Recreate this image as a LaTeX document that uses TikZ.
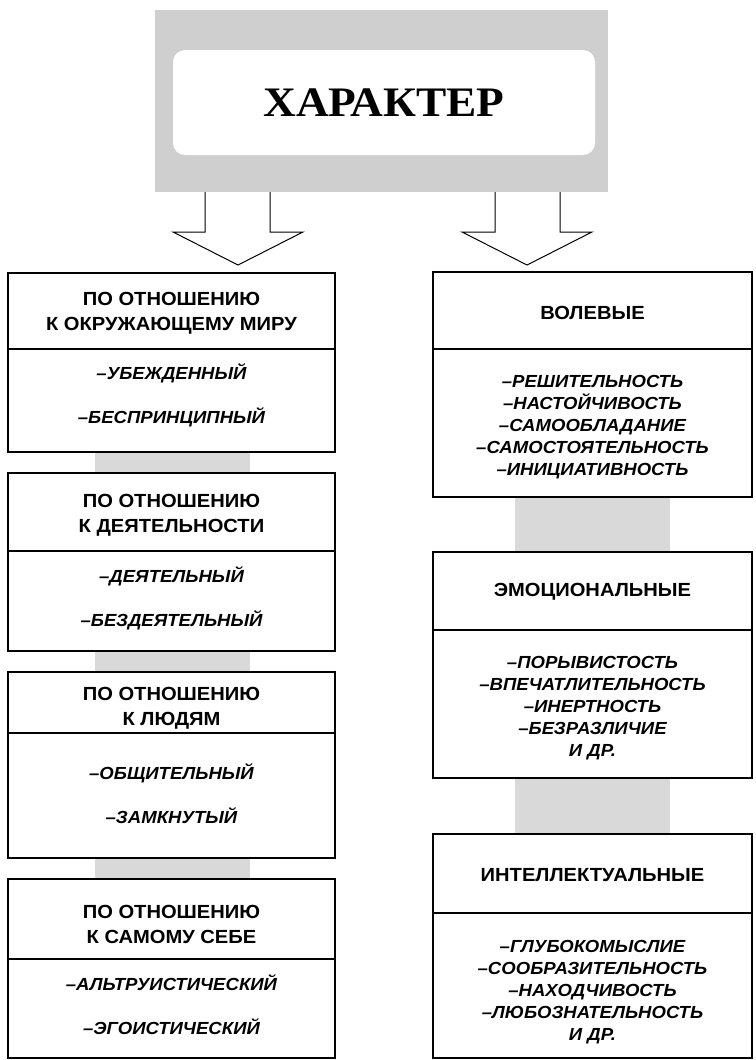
\documentclass[tikz,border=0pt]{standalone}
\usepackage{fontspec}
\newfontfamily\sansf{Liberation Sans}[FakeStretch=1.06]
\newfontfamily\titlef{Liberation Serif}[FakeStretch=1.08]
\begin{document}
\begin{tikzpicture}[x=1pt,y=-1pt,
  frame/.style={draw=black,line width=1.4pt,inner sep=0pt},
  lframe/.style={frame,minimum width=327pt},
  rframe/.style={frame,minimum width=319pt},
  hd/.style={align=center,inner sep=0pt,font=\sansf\bfseries\fontsize{19}{25}\selectfont},
  it/.style={align=center,inner sep=0pt,font=\sansf\bfseries\itshape\fontsize{17.5}{22}\selectfont},
  itw/.style={align=center,inner sep=0pt,font=\sansf\bfseries\itshape\fontsize{17.5}{44}\selectfont},
  conn/.style={fill=gray!30},
  blockarrow/.style={draw=black,line width=1pt,line join=miter}]
\useasboundingbox (0,0) rectangle (755,1060);
% top box
\node[fill=gray!38,minimum width=453pt,minimum height=182pt,inner sep=0pt] (G) at (381.5,101) {};
\node[fill=white,rounded corners=12pt,minimum width=422pt,minimum height=105pt,inner sep=0pt,
  font=\titlef\bfseries\fontsize{42}{42}\selectfont] (T) at (384,102.5) {ХАРАКТЕР};
% left column frames
\node[lframe,minimum height=76pt] (L1h) at (171.5,311) {};
\node[lframe,minimum height=103pt] (L1b) at (171.5,400.5) {};
\node[lframe,minimum height=78pt] (L2h) at (171.5,512) {};
\node[lframe,minimum height=100pt] (L2b) at (171.5,601) {};
\node[lframe,minimum height=61pt] (L3h) at (171.5,702.5) {};
\node[lframe,minimum height=125pt] (L3b) at (171.5,795.5) {};
\node[lframe,minimum height=80pt] (L4h) at (171.5,919) {};
\node[lframe,minimum height=99pt] (L4b) at (171.5,1008.5) {};
% right column frames
\node[rframe,minimum height=77pt] (R1h) at (592.5,310.5) {};
\node[rframe,minimum height=148pt] (R1b) at (592.5,423) {};
\node[rframe,minimum height=78pt] (R2h) at (592.5,591) {};
\node[rframe,minimum height=148pt] (R2b) at (592.5,704) {};
\node[rframe,minimum height=79pt] (R3h) at (592.5,873.5) {};
\node[rframe,minimum height=145pt] (R3b) at (592.5,985.5) {};
% gray connectors
\fill[conn] ([xshift=-76.5pt,yshift=-0.7pt]L1b.south) rectangle ([xshift=78.5pt,yshift=0.7pt]L2h.north);
\fill[conn] ([xshift=-76.5pt,yshift=-0.7pt]L2b.south) rectangle ([xshift=78.5pt,yshift=0.7pt]L3h.north);
\fill[conn] ([xshift=-76.5pt,yshift=-0.7pt]L3b.south) rectangle ([xshift=78.5pt,yshift=0.7pt]L4h.north);
\fill[conn] ([xshift=-77.5pt,yshift=-0.7pt]R1b.south) rectangle ([xshift=77.5pt,yshift=0.7pt]R2h.north);
\fill[conn] ([xshift=-77.5pt,yshift=-0.7pt]R2b.south) rectangle ([xshift=77.5pt,yshift=0.7pt]R3h.north);
% block arrows
\coordinate (la1) at (205,232); \coordinate (la2) at (270,232);
\coordinate (ltip) at (238,265);
\coordinate (ra1) at (495,232); \coordinate (ra2) at (560,232);
\coordinate (rtip) at (527,265);
\draw[blockarrow] (G.south -| la1) -- (la1) -- ++(-32,0) -- (ltip) -- ([xshift=33pt]la2) -- (la2) -- (G.south -| la2);
\draw[blockarrow] (G.south -| ra1) -- (ra1) -- ++(-33,0) -- (rtip) -- ([xshift=32pt]ra2) -- (ra2) -- (G.south -| ra2);
% left texts
\node[hd] (L1ht) at (171.5,313.5) {ПО ОТНОШЕНИЮ\\К ОКРУЖАЮЩЕМУ МИРУ};
\node[itw] (L1bt) at (171.5,395) {–УБЕЖДЕННЫЙ\\–БЕСПРИНЦИПНЫЙ};
\node[hd] (L2ht) at (171.5,515) {ПО ОТНОШЕНИЮ\\К ДЕЯТЕЛЬНОСТИ};
\node[itw] (L2bt) at (171.5,598.5) {–ДЕЯТЕЛЬНЫЙ\\–БЕЗДЕЯТЕЛЬНЫЙ};
\node[hd] (L3ht) at (171.5,708) {ПО ОТНОШЕНИЮ\\К ЛЮДЯМ};
\node[itw] (L3bt) at (171.5,794) {–ОБЩИТЕЛЬНЫЙ\\–ЗАМКНУТЫЙ};
\node[hd] (L4ht) at (171.5,924) {ПО ОТНОШЕНИЮ\\К САМОМУ СЕБЕ};
\node[itw] (L4bt) at (171.5,1005) {–АЛЬТРУИСТИЧЕСКИЙ\\–ЭГОИСТИЧЕСКИЙ};
% right texts
\node[hd] (R1ht) at (592.5,313) {ВОЛЕВЫЕ};
\node[it] (R1bt) at (592.5,427.5) {–РЕШИТЕЛЬНОСТЬ\\–НАСТОЙЧИВОСТЬ\\–САМООБЛАДАНИЕ\\–САМОСТОЯТЕЛЬНОСТЬ\\–ИНИЦИАТИВНОСТЬ};
\node[hd] (R2ht) at (592.5,592) {ЭМОЦИОНАЛЬНЫЕ};
\node[it] (R2bt) at (592.5,708) {–ПОРЫВИСТОСТЬ\\–ВПЕЧАТЛИТЕЛЬНОСТЬ\\–ИНЕРТНОСТЬ\\–БЕЗРАЗЛИЧИЕ\\И ДР.};
\node[hd] (R3ht) at (592.5,875) {ИНТЕЛЛЕКТУАЛЬНЫЕ};
\node[it] (R3bt) at (592.5,992.5) {–ГЛУБОКОМЫСЛИЕ\\–СООБРАЗИТЕЛЬНОСТЬ\\–НАХОДЧИВОСТЬ\\–ЛЮБОЗНАТЕЛЬНОСТЬ\\И ДР.};
\end{tikzpicture}
\end{document}
